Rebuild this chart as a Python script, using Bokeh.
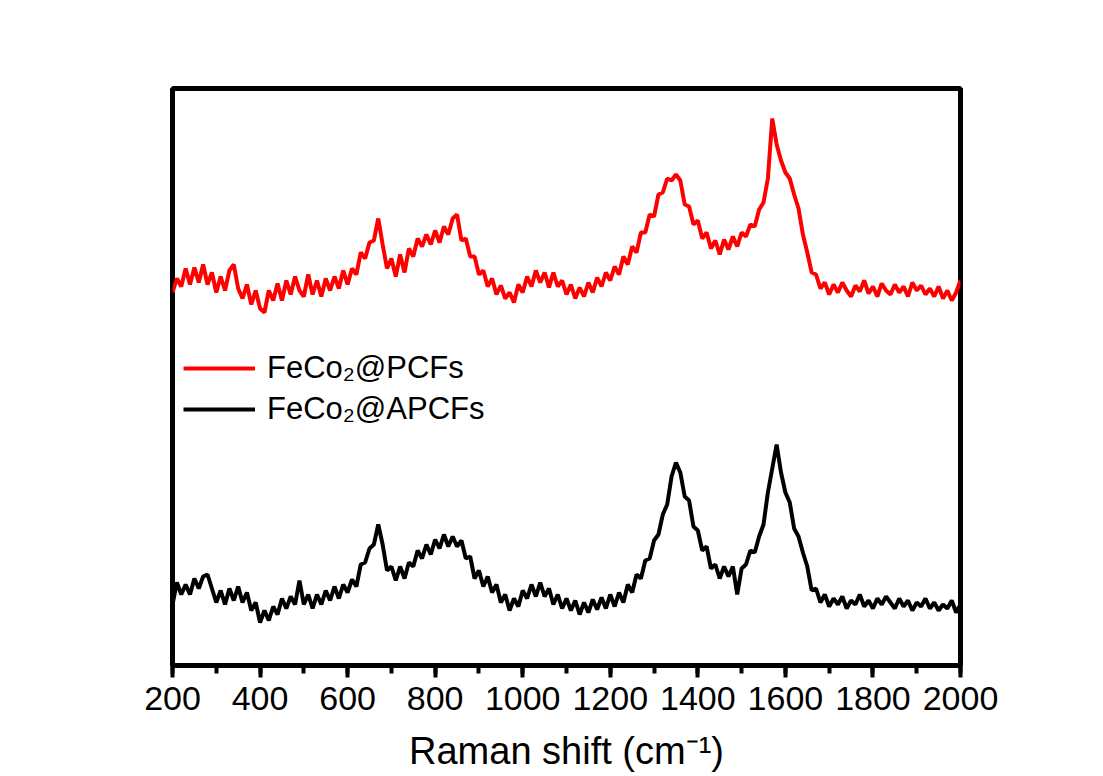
from bokeh.plotting import figure
from bokeh.models import Range1d, SingleIntervalTicker, Legend, LegendItem
from bokeh.embed import file_html
from bokeh.resources import INLINE

# Raman shift sampling (cm^-1)
wavenumber = list(range(200, 2001, 10))

# Intensity (a.u., offset traces)
fecoo_pcfs = [
    372, 386, 378, 396, 380, 397, 382, 400, 380, 392,
    372, 388, 374, 394, 400, 376, 366, 380, 360, 374,
    356, 352, 374, 364, 381, 364, 384, 370, 388, 374,
    368, 390, 370, 384, 368, 386, 374, 388, 376, 394,
    380, 396, 390, 412, 406, 422, 424, 446, 420, 396,
    406, 388, 410, 392, 416, 408, 426, 418, 430, 420,
    434, 422, 438, 430, 446, 450, 424, 426, 408, 408,
    390, 394, 378, 386, 370, 379, 366, 372, 362, 380,
    372, 388, 378, 394, 382, 392, 377, 392, 378, 384,
    370, 380, 366, 377, 368, 382, 372, 387, 378, 392,
    384, 398, 390, 408, 400, 418, 412, 432, 432, 450,
    448, 470, 472, 486, 484, 490, 484, 460, 458, 440,
    444, 426, 432, 416, 424, 410, 425, 415, 428, 418,
    432, 428, 440, 438, 455, 462, 486, 546, 520, 504,
    492, 486, 470, 456, 430, 412, 392, 390, 376, 382,
    370, 380, 372, 382, 374, 368, 379, 373, 384, 371,
    378, 368, 381, 374, 370, 380, 372, 378, 368, 382,
    374, 379, 370, 376, 368, 378, 366, 374, 364, 372, 384,
]

fecoo_apcfs = [
    60, 82, 70, 80, 70, 86, 76, 88, 90, 76,
    62, 74, 60, 76, 64, 78, 62, 72, 54, 62,
    42, 54, 44, 58, 50, 66, 56, 68, 60, 84,
    60, 70, 56, 70, 60, 74, 64, 78, 66, 80,
    72, 85, 78, 100, 102, 116, 120, 140, 120, 94,
    98, 84, 98, 86, 102, 98, 114, 106, 120, 110,
    125, 116, 130, 118, 128, 118, 124, 106, 108, 86,
    94, 78, 88, 72, 80, 62, 70, 54, 66, 58,
    74, 66, 80, 68, 82, 68, 76, 60, 70, 56,
    66, 54, 64, 50, 62, 52, 65, 55, 67, 56,
    70, 58, 72, 62, 80, 72, 90, 86, 104, 106,
    124, 130, 150, 160, 188, 202, 192, 168, 164, 138,
    134, 114, 118, 96, 100, 86, 98, 88, 98, 70,
    96, 100, 114, 112, 128, 140, 172, 196, 220, 192,
    172, 162, 136, 128, 112, 98, 74, 76, 62, 70,
    58, 66, 60, 68, 56, 64, 60, 70, 58, 64,
    56, 66, 60, 68, 62, 56, 66, 58, 64, 54,
    62, 58, 66, 56, 62, 54, 60, 56, 64, 52, 60,
]

series_labels = ["FeCo\u2082@PCFs", "FeCo\u2082@APCFs"]
x_label = "Raman shift (cm\u207b\u00b9)"

FONT = "Liberation Sans"

p = figure(width=1103, height=776, output_backend="svg", toolbar_location=None,
           x_range=Range1d(200, 2000), y_range=Range1d(-1, 576),
           min_border_left=172, min_border_right=143,
           min_border_top=88, min_border_bottom=111)
p.background_fill_color = "white"
p.border_fill_color = "white"
p.grid.visible = False
p.outline_line_color = "black"
p.outline_line_width = 5
p.yaxis.visible = False

ax = p.xaxis[0]
ax.ticker = SingleIntervalTicker(interval=200, num_minor_ticks=2)
ax.axis_line_width = 5
ax.axis_line_color = "black"
ax.major_tick_line_width = 4
ax.major_tick_in = 0
ax.major_tick_out = 12
ax.minor_tick_line_width = 4
ax.minor_tick_in = 0
ax.minor_tick_out = 8
ax.major_label_text_font = FONT
ax.major_label_text_font_size = "34px"
ax.major_label_text_color = "black"
ax.major_label_standoff = 9
ax.axis_label = x_label
ax.axis_label_text_font = FONT
ax.axis_label_text_font_size = "38px"
ax.axis_label_text_font_style = "normal"
ax.axis_label_text_color = "black"
ax.axis_label_standoff = 17

r1 = p.line(wavenumber, fecoo_pcfs, line_color="#ff0000", line_width=4)
r2 = p.line(wavenumber, fecoo_apcfs, line_color="black", line_width=4)

legend = Legend(items=[LegendItem(label=series_labels[0], renderers=[r1]),
                       LegendItem(label=series_labels[1], renderers=[r2])],
                location=(6, 233))
legend.glyph_width = 72
legend.glyph_height = 30
legend.label_height = 30
legend.spacing = 5
legend.padding = 5
legend.margin = 0
legend.label_standoff = 12
legend.border_line_alpha = 0
legend.background_fill_alpha = 0
legend.label_text_font = FONT
legend.label_text_font_size = "31px"
legend.label_text_color = "black"
p.add_layout(legend)

open("out.html", "w").write(file_html(p, INLINE))
